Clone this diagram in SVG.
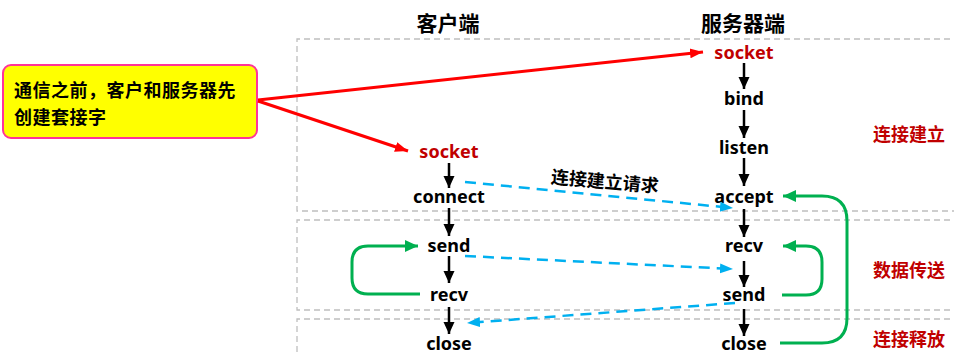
<svg xmlns="http://www.w3.org/2000/svg" width="954" height="356" viewBox="0 0 954 356">
<style>
.bg{fill:#ffffff}
.sec{fill:none;stroke:#bfbfbf;stroke-width:1.3;stroke-dasharray:6 4}
.node{font-family:"Noto Sans","Noto Sans CJK SC",sans-serif;font-weight:bold;font-size:18px;fill:#000;text-anchor:middle;dominant-baseline:central}
.red{fill:#c00000}
.hdr{font-family:"Noto Sans CJK SC",sans-serif;font-weight:bold;font-size:21px;fill:#000;text-anchor:middle;dominant-baseline:central}
.phase{font-family:"Noto Sans CJK SC",sans-serif;font-weight:bold;font-size:18px;fill:#c00000;text-anchor:middle;dominant-baseline:central}
.note{font-family:"Noto Sans CJK SC",sans-serif;font-weight:bold;font-size:18px;letter-spacing:0.5px;fill:#000;dominant-baseline:central}
.lbl{font-family:"Noto Sans CJK SC",sans-serif;font-weight:bold;font-size:18px;fill:#000;text-anchor:middle;dominant-baseline:central}
.blk{fill:none;stroke:#000;stroke-width:2.5;marker-end:url(#ab)}
.blue{fill:none;stroke:#00b0f0;stroke-width:2.5;stroke-dasharray:11 7;marker-end:url(#au)}
.grn{fill:none;stroke:#00b050;stroke-width:3;marker-end:url(#ag)}
.rd{fill:none;stroke:#ff0000;stroke-width:3;marker-end:url(#ar)}
</style>
<defs>
<marker id="ab" markerUnits="userSpaceOnUse" markerWidth="13" markerHeight="13" refX="12" refY="6.5" orient="auto" viewBox="0 0 13 13"><path d="M0,1 L12,6.5 L0,12 z" fill="#000"/></marker>
<marker id="au" markerUnits="userSpaceOnUse" markerWidth="14" markerHeight="12" refX="13" refY="6" orient="auto" viewBox="0 0 14 12"><path d="M0,1 L13,6 L0,11 z" fill="#00b0f0"/></marker>
<marker id="ag" markerUnits="userSpaceOnUse" markerWidth="14" markerHeight="14" refX="13" refY="7" orient="auto" viewBox="0 0 14 14"><path d="M0,1 L13,7 L0,13 z" fill="#00b050"/></marker>
<marker id="ar" markerUnits="userSpaceOnUse" markerWidth="14" markerHeight="12" refX="13" refY="6" orient="auto" viewBox="0 0 14 12"><path d="M0,1 L13,6 L0,11 z" fill="#ff0000"/></marker>
</defs>
<rect class="bg" x="0" y="0" width="954" height="356"/>
<g id="sections">
<path class="sec" d="M960,39 H297 V211 H960"/>
<path class="sec" d="M960,220 H297 V310 H960"/>
<path class="sec" d="M960,319 H297 V360"/>
</g>
<g id="headers">
<text class="hdr" x="448" y="22">客户端</text>
<text class="hdr" x="743" y="22">服务器端</text>
</g>
<g id="phases">
<text class="phase" x="909" y="133">连接建立</text>
<text class="phase" x="909" y="269">数据传送</text>
<text class="phase" x="909" y="338">连接释放</text>
</g>
<g id="callout">
<rect x="3" y="65" width="254" height="73" rx="8" fill="#ffff00" stroke="#ff3399" stroke-width="2"/>
<text class="note"><tspan x="14" y="89">通信之前，客户和服务器先</tspan><tspan x="14" y="115.5">创建套接字</tspan></text>
</g>
<g id="client">
<g id="c-socket"><text class="node red" x="449" y="151">socket</text></g>
<g id="c-connect"><text class="node" x="449" y="196">connect</text></g>
<g id="c-send"><text class="node" x="449" y="245">send</text></g>
<g id="c-recv"><text class="node" x="449" y="294">recv</text></g>
<g id="c-close"><text class="node" x="449" y="343">close</text></g>
</g>
<g id="server">
<g id="s-socket"><text class="node red" x="744" y="52">socket</text></g>
<g id="s-bind"><text class="node" x="744" y="98">bind</text></g>
<g id="s-listen"><text class="node" x="744" y="147">listen</text></g>
<g id="s-accept"><text class="node" x="744" y="196">accept</text></g>
<g id="s-recv"><text class="node" x="744" y="245">recv</text></g>
<g id="s-send"><text class="node" x="744" y="294">send</text></g>
<g id="s-close"><text class="node" x="744" y="343">close</text></g>
</g>
<g id="connectors">
<line class="blk" x1="744" y1="63" x2="744" y2="89"/>
<line class="blk" x1="744" y1="110" x2="744" y2="138"/>
<line class="blk" x1="744" y1="158" x2="744" y2="186"/>
<line class="blk" x1="744" y1="209" x2="744" y2="237"/>
<line class="blk" x1="744" y1="261" x2="744" y2="287"/>
<line class="blk" x1="744" y1="309" x2="744" y2="336"/>
<line class="blk" x1="449" y1="163" x2="449" y2="188"/>
<line class="blk" x1="449" y1="208" x2="449" y2="236"/>
<line class="blk" x1="449" y1="256" x2="449" y2="283"/>
<line class="blk" x1="449" y1="307" x2="449" y2="334"/>
<line class="rd" x1="258" y1="100" x2="703" y2="52"/>
<line class="rd" x1="258" y1="101" x2="408" y2="151"/>
<line class="blue" x1="465" y1="182" x2="733" y2="208"/>
<line class="blue" x1="465" y1="256" x2="733" y2="269"/>
<line class="blue" x1="735" y1="303" x2="467" y2="323"/>
<path class="grn" d="M420,294 H368 Q352,294 352,278 V262 Q352,246 368,246 H418"/>
<path class="grn" d="M782,295 H806 Q822,295 822,279 V262 Q822,246 806,246 H783"/>
<path class="grn" d="M780,343 H822 Q847,343 847,318 V221 Q847,196 822,196 H783"/>
<text class="lbl" x="605" y="180" transform="rotate(5 605 180)">连接建立请求</text>
</g>
</svg>
